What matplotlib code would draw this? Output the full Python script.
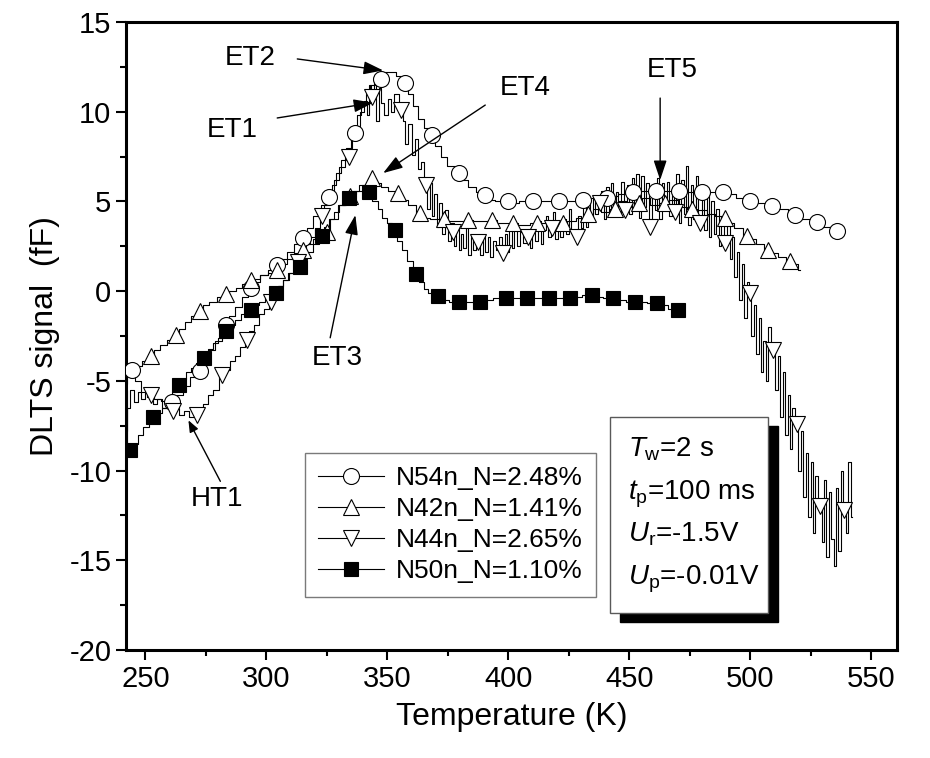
import matplotlib
matplotlib.use("Agg")
import matplotlib.pyplot as plt
from matplotlib.lines import Line2D
from matplotlib.patches import Rectangle
from matplotlib.ticker import MultipleLocator

plt.rcParams["font.family"] = "Liberation Sans"
plt.rcParams["axes.unicode_minus"] = False
plt.rcParams["mathtext.fontset"] = "custom"
plt.rcParams["mathtext.rm"] = "Liberation Sans"
plt.rcParams["mathtext.it"] = "Liberation Sans:italic"

# ---- DLTS spectra: temperature (K) vs signal (fF) ----
n54_T = [242, 244.6, 247, 249, 252, 255, 258, 261, 264, 267,
         270, 272.7, 275, 277.5, 280, 283.5, 286, 288.5, 291, 293.8,
         296, 299, 302, 304.5, 307, 310, 313, 315.3, 318, 321,
         324, 326, 328, 330, 332, 334, 336.8, 338.5, 340, 342,
         344, 345.5, 347.5, 350, 352.5, 355, 357.4, 359.5, 361.5, 364,
         366, 368.6, 371, 373.5, 376, 379.8, 382, 385, 388, 390.5,
         393, 396, 400, 403, 406, 410.3, 413, 416, 421, 424,
         427, 431, 434, 437, 441, 444, 447, 451.6, 455, 458,
         461, 464, 467, 470.5, 474, 477, 480, 484, 488.8, 492,
         496, 500, 504, 509, 513, 518.6, 523, 527.7, 531, 536]
n54_S = [-4.7, -4.4, -5.0, -5.6, -5.9, -6.0, -6.1, -6.2, -5.8, -5.3,
         -4.8, -4.45, -3.9, -3.3, -2.8, -1.9, -1.4, -0.9, -0.3, 0.17,
         0.5, 0.9, 1.2, 1.45, 1.8, 2.2, 2.6, 2.96, 3.5, 4.2,
         4.8, 5.25, 5.9, 6.6, 7.3, 8.0, 8.8, 9.8, 10.5, 11.0,
         11.5, 11.8, 12.0, 12.2, 12.2, 12.0, 11.6, 11.0, 10.3, 9.6,
         9.1, 8.7, 8.1, 7.5, 7.0, 6.6, 6.2, 5.8, 5.5, 5.35,
         5.1, 5.0, 5.0, 4.9, 5.0, 5.0, 5.0, 5.0, 5.0, 5.0,
         5.0, 5.1, 5.2, 5.2, 5.2, 5.3, 5.4, 5.5, 5.6, 5.6,
         5.6, 5.6, 5.6, 5.6, 5.5, 5.5, 5.5, 5.5, 5.5, 5.4,
         5.2, 5.0, 4.9, 4.75, 4.6, 4.25, 4.0, 3.85, 3.6, 3.35]
n54_mT = [244.6, 261, 272.7, 283.5, 293.8, 304.5, 315.3, 326, 336.8, 347.5,
          357.4, 368.6, 379.8, 390.5, 400, 410.3, 421, 431, 441, 451.6,
          461, 470.5, 480, 488.8, 500, 509, 518.6, 527.7, 536]
n54_mS = [-4.4, -6.2, -4.45, -1.9, 0.17, 1.45, 2.96, 5.25, 8.8, 11.8,
          11.6, 8.7, 6.6, 5.35, 5.0, 5.0, 5.0, 5.1, 5.2, 5.5,
          5.6, 5.6, 5.5, 5.5, 5.0, 4.75, 4.25, 3.85, 3.35]

n42_T = [242, 243, 245, 247.5, 250, 252.5, 255, 257.5, 260, 262.8,
         265, 268, 270, 272.7, 275, 278, 281, 283.5, 286, 289,
         291, 293.8, 296, 299, 302, 304.5, 307, 310, 313, 315,
         318, 321, 325, 328, 331, 334.5, 337, 340, 343.8, 346,
         349, 351.5, 354.5, 357, 360, 363.6, 366, 369, 373.5, 377,
         380, 383.5, 387, 390, 393.4, 397, 402, 406, 412, 417,
         422.7, 426, 430, 433, 437, 440, 444, 447, 450, 454,
         457, 460, 465, 468, 472, 476, 480, 484, 487, 489.7,
         492, 495, 498.8, 501, 504, 507.4, 510, 513, 516.5, 519,
         520.5]
n42_S = [-5.2, -4.6, -4.5, -4.2, -3.9, -3.6, -3.3, -3.0, -2.7, -2.45,
         -2.1, -1.7, -1.4, -1.1, -0.8, -0.6, -0.3, -0.15, 0.0, 0.2,
         0.4, 0.6, 0.7, 0.9, 1.0, 1.2, 1.5, 1.8, 2.1, 2.3,
         2.6, 2.9, 3.3, 4.0, 4.8, 5.3, 5.6, 5.9, 6.3, 6.0,
         5.8, 5.6, 5.45, 5.1, 4.8, 4.35, 4.1, 4.0, 4.0, 3.9,
         3.9, 3.95, 3.9, 3.9, 3.95, 3.8, 3.8, 3.7, 3.8, 3.8,
         3.8, 3.9, 4.1, 4.3, 4.6, 4.4, 4.6, 5.0, 4.7, 4.9,
         5.2, 4.8, 4.9, 5.1, 4.7, 4.6, 4.5, 4.3, 4.2, 4.1,
         3.8, 3.5, 3.1, 2.9, 2.6, 2.3, 2.1, 1.9, 1.7, 1.5,
         1.2]
n42_mT = [252.5, 262.8, 272.7, 283.5, 293.8, 304.5, 315, 325, 334.5, 343.8,
          354.5, 363.6, 373.5, 383.5, 393.4, 402, 412, 422.7, 433, 444,
          454, 465, 476, 489.7, 498.8, 507.4, 516.5]
n42_mS = [-3.6, -2.45, -1.1, -0.15, 0.6, 1.2, 2.3, 3.3, 5.3, 6.3,
          5.45, 4.35, 4.0, 3.95, 3.95, 3.8, 3.8, 3.8, 4.3, 4.6,
          4.9, 4.9, 4.6, 4.1, 3.1, 2.3, 1.7]

n44_T = [242, 243, 244.5, 246, 247.5, 249, 250.5, 252.5, 254, 256,
         258, 260, 261.5, 263, 265, 267, 269, 271.5, 273, 275,
         277, 279, 281.8, 284, 286, 288, 290, 292, 294, 296,
         298, 300, 302, 304, 306, 308, 310, 313, 315, 317,
         319, 321, 323, 325, 327, 329, 331, 334, 336, 338,
         339.5, 341, 342, 343, 343.8, 345, 346, 347, 348, 349.5,
         351, 352, 353.5, 355.8, 357, 358, 359.5, 361, 362, 363.5,
         364.5, 366, 367, 368, 369, 370, 371, 372, 373, 374.5,
         375.5, 377, 378, 379, 380, 381, 382, 383, 384, 385,
         386, 387.6, 389, 390, 391, 392, 393, 394, 395.5, 397,
         398, 399, 400, 401, 402, 403, 404, 405.5, 407, 408.3,
         409.5, 410.5, 411.5, 413, 414, 415, 416, 417, 418, 419,
         420, 421, 422, 423.5, 424.5, 425.5, 426.5, 428.5, 429.5, 430.5,
         431.5, 432.5, 433.5, 434.5, 435.5, 436.5, 438, 439, 440, 441,
         442, 443, 444, 445, 446, 447, 448.3, 449.5, 450.5, 451.5,
         452.5, 453.5, 454.5, 455.5, 456.5, 457.5, 458.7, 460, 461, 462,
         463, 464, 465, 466, 467, 468, 469, 470, 471, 472,
         473, 474, 475, 476, 477, 478, 479.3, 480.5, 481.5, 482.5,
         483.5, 484.5, 485.5, 486.5, 487.5, 488.5, 489.7, 491, 492, 493,
         494, 495, 496, 497, 498, 499, 500, 501, 502, 503,
         504, 505, 506, 507, 508, 509.5, 511, 512, 513, 514,
         515, 516, 517, 518, 519.4, 520.5, 521.5, 522.5, 523.5, 524.5,
         525.5, 526.5, 527.5, 529, 530, 531, 532, 533, 534, 535,
         536, 537, 538, 539, 540, 541, 542]
n44_S = [-7.8, -6.5, -5.5, -6.2, -5.6, -6.0, -5.7, -5.8, -6.3, -6.0,
         -6.5, -6.4, -6.7, -6.5, -6.9, -6.7, -7.0, -6.9, -6.6, -6.3,
         -5.8, -5.5, -4.7, -4.4, -3.9, -3.6, -3.1, -2.7, -2.2, -1.9,
         -1.3, -1.0, -0.6, -0.2, 0.3, 0.6, 1.0, 1.6, 2.2, 2.6,
         3.0, 3.5, 4.2, 4.8, 5.5, 6.2, 6.9, 7.5, 8.4, 9.2,
         10.0, 10.6, 9.8, 11.5, 10.8, 12.0, 9.5, 11.3, 10.5, 9.8,
         10.7, 10.0, 11.0, 10.1, 9.5, 8.2, 9.3, 7.6, 8.5, 6.8,
         7.2, 5.9, 4.6, 6.0, 4.2, 5.4, 3.6, 4.9, 3.2, 4.5,
         2.8, 3.8, 2.5, 3.6, 2.3, 3.2, 2.4, 3.5, 2.0, 3.0,
         2.3, 2.75, 2.0, 3.1, 2.2, 3.0, 1.9, 2.8, 2.3, 3.0,
         2.1, 3.2, 2.2, 3.4, 2.4, 3.6, 2.5, 3.3, 2.7, 3.0,
         2.4, 3.7, 2.8, 3.9, 2.6, 3.4, 4.2, 3.0, 3.5, 4.4,
         2.9, 3.8, 3.0, 4.0, 3.2, 4.6, 3.4, 3.0, 4.2, 3.5,
         4.8, 3.6, 5.2, 4.0, 5.3, 4.3, 4.9, 5.6, 4.0, 5.8,
         4.4, 6.0, 4.6, 5.5, 4.2, 6.1, 4.5, 5.9, 4.3, 6.3,
         4.8, 6.5, 4.1, 6.4, 4.7, 6.0, 3.6, 5.5, 4.5, 6.3,
         4.0, 6.0, 4.6, 6.1, 4.2, 5.8, 4.4, 6.5, 3.8, 6.2,
         4.3, 7.0, 3.7, 5.9, 4.0, 6.4, 3.8, 5.5, 3.4, 5.7,
         3.0, 5.0, 3.2, 4.6, 2.5, 4.2, 2.7, 3.8, 1.8, 3.0,
         0.8, 2.2, -0.5, 1.5, -1.5, 0.5, -0.1, -2.5, -0.8, -3.5,
         -1.5, -4.5, -2.8, -5.0, -2.0, -3.3, -5.5, -3.6, -7.0, -4.5,
         -8.0, -5.8, -8.8, -6.5, -7.4, -10.0, -7.8, -11.5, -9.0, -12.6,
         -9.5, -13.5, -10.3, -12.0, -14.0, -10.5, -14.8, -11.2, -13.8, -15.3,
         -11.0, -14.5, -10.0, -12.2, -13.5, -9.5, -12.6]
n44_mT = [252.5, 261.5, 271.5, 281.8, 292, 302, 313, 323, 334, 343.8,
          355.8, 366, 377, 387.6, 398, 408.3, 418, 428.5, 438, 448.3,
          458.7, 469, 479.3, 489.7, 500, 509.5, 519.4, 529, 539]
n44_mS = [-5.8, -6.7, -6.9, -4.7, -2.7, -0.6, 1.6, 4.2, 7.5, 10.8,
          10.1, 5.9, 3.3, 2.75, 2.1, 3.0, 3.5, 3.0, 4.9, 4.5,
          3.6, 4.4, 3.8, 2.7, -0.1, -3.3, -7.4, -12.0, -12.2]

n50_T = [242, 242.8, 243.8, 246, 248, 250, 253.3, 256, 258, 260,
         262, 264, 266, 268, 270, 272, 274.4, 277, 279, 281,
         283.5, 286, 288, 291, 293.8, 296, 298, 301, 304, 306,
         308, 311, 314, 316, 318, 320.5, 323, 325, 327, 329,
         331, 334, 336, 338, 340, 342.6, 345, 347, 349, 351,
         353, 355, 357, 359, 362, 364, 366, 368, 371, 374,
         377, 379.8, 383, 386, 388.4, 392, 395, 399, 403, 407.9,
         411, 414, 417, 421, 425.6, 429, 432, 434.7, 438, 440,
         443.4, 447, 450, 452.5, 456, 459, 461.6, 465, 467, 470]
n50_S = [-5.5, -9.2, -8.86, -8.5, -8.0, -7.6, -7.0, -6.8, -6.5, -6.1,
         -5.6, -5.25, -4.9, -4.5, -4.3, -4.0, -3.7, -3.2, -2.9, -2.6,
         -2.2, -1.9, -1.6, -1.3, -1.05, -0.8, -0.6, -0.3, -0.1, 0.3,
         0.6, 1.0, 1.35, 1.8, 2.2, 2.6, 3.1, 3.6, 4.0, 4.4,
         4.8, 5.2, 5.4, 5.6, 5.6, 5.5, 5.0, 4.6, 4.1, 3.8,
         3.4, 2.8, 2.3, 1.7, 0.95, 0.5, 0.1, -0.1, -0.27, -0.5,
         -0.6, -0.6, -0.6, -0.6, -0.6, -0.5, -0.4, -0.4, -0.4, -0.4,
         -0.4, -0.4, -0.4, -0.4, -0.4, -0.3, -0.2, -0.2, -0.3, -0.4,
         -0.4, -0.5, -0.6, -0.6, -0.6, -0.65, -0.65, -0.8, -1.0, -1.05]
n50_mT = [243.8, 253.3, 264, 274.4, 283.5, 293.8, 304, 314, 323, 334,
          342.6, 353, 362, 371, 379.8, 388.4, 399, 407.9, 417, 425.6,
          434.7, 443.4, 452.5, 461.6, 470]
n50_mS = [-8.86, -7.0, -5.25, -3.7, -2.2, -1.05, -0.1, 1.35, 3.1, 5.2,
          5.5, 3.4, 0.95, -0.27, -0.6, -0.6, -0.4, -0.4, -0.4, -0.4,
          -0.2, -0.4, -0.6, -0.65, -1.05]

labels = ["N54n_N=2.48%", "N42n_N=1.41%", "N44n_N=2.65%", "N50n_N=1.10%"]
box_lines = [r"$T_\mathrm{w}$=2 s", r"$t_\mathrm{p}$=100 ms",
             r"$U_\mathrm{r}$=-1.5V", r"$U_\mathrm{p}$=-0.01V"]

series = [
    (n54_T, n54_S, n54_mT, n54_mS, "o", "white", 11.5),
    (n42_T, n42_S, n42_mT, n42_mS, "^", "white", 11),
    (n44_T, n44_S, n44_mT, n44_mS, "v", "white", 11),
    (n50_T, n50_S, n50_mT, n50_mS, "s", "black", 10),
]

fig = plt.figure(figsize=(9.3, 7.58), dpi=100)
ax = fig.add_axes([0.1355, 0.1425, 0.829, 0.8285])

handles = []
for (T, S, mT, mS, mk, fc, ms), lab in zip(series, labels):
    ax.plot(T, S, color="black", lw=0.8, drawstyle="steps-mid", zorder=2)
    ax.plot(mT, mS, ls="none", marker=mk, ms=ms, mfc=fc, mec="black",
            mew=0.8, zorder=3)
    handles.append(Line2D([], [], color="black", lw=0.8, marker=mk, ms=ms,
                          mfc=fc, mec="black", mew=0.8, label=lab))

# peak labels with arrows
arrow = dict(arrowstyle="-|>,head_length=0.6,head_width=0.2", color="black",
             lw=1.0, mutation_scale=20, shrinkA=0, shrinkB=0)
fs_ann = 20
ax.annotate("", xy=(348.3, 12.3), xytext=(312.8, 12.94), arrowprops=arrow)
ax.text(293.4, 13.0, "ET2", fontsize=fs_ann, ha="center", va="center")
ax.annotate("", xy=(344.2, 10.5), xytext=(304.5, 9.65), arrowprops=arrow)
ax.text(286, 9.0, "ET1", fontsize=fs_ann, ha="center", va="center")
ax.annotate("", xy=(348.3, 6.58), xytext=(390.5, 10.37), arrowprops=arrow)
ax.text(407, 11.3, "ET4", fontsize=fs_ann, ha="center", va="center")
ax.annotate("", xy=(336.8, 4.24), xytext=(326.4, -2.6), arrowprops=arrow)
ax.text(329.3, -3.73, "ET3", fontsize=fs_ann, ha="center", va="center")
ax.annotate("", xy=(462.8, 6.19), xytext=(462.8, 10.76), arrowprops=arrow)
ax.text(468, 12.3, "ET5", fontsize=fs_ann, ha="center", va="center")
ax.annotate("", xy=(267.8, -7.2), xytext=(281, -10.6),
            arrowprops=dict(arrowstyle="-|>,head_length=0.5,head_width=0.2",
                            color="black", lw=1.0, mutation_scale=14,
                            shrinkA=0, shrinkB=0))
ax.text(279.8, -11.6, "HT1", fontsize=fs_ann, ha="center", va="center")

# measurement conditions box with drop shadow
bx0, by0, bw, bh = 0.628, 0.059, 0.205, 0.312
ax.add_patch(Rectangle((bx0 + 0.013, by0 - 0.0143), bw, bh, transform=ax.transAxes,
                       facecolor="black", edgecolor="black", zorder=5))
ax.add_patch(Rectangle((bx0, by0), bw, bh, transform=ax.transAxes,
                       facecolor="white", edgecolor="0.35", lw=1.0, zorder=6))
for i, s in enumerate(box_lines):
    ax.text(bx0 + 0.023, 0.308 - i * 0.068, s, transform=ax.transAxes,
            fontsize=20, ha="left", va="baseline", zorder=7)

leg = ax.legend(handles=handles, loc="upper left",
                bbox_to_anchor=(0.232, 0.314), borderaxespad=0,
                fontsize=19, handlelength=2.5, handletextpad=0.45,
                labelspacing=0.27, borderpad=0.5, frameon=True,
                fancybox=False)
leg.get_frame().set_edgecolor("0.35")
leg.get_frame().set_linewidth(1.0)
leg.set_zorder(6)

ax.set_xlim(242, 560.7)
ax.set_ylim(-20, 15)
ax.xaxis.set_major_locator(MultipleLocator(50))
ax.xaxis.set_minor_locator(MultipleLocator(25))
ax.yaxis.set_major_locator(MultipleLocator(5))
ax.yaxis.set_minor_locator(MultipleLocator(2.5))
ax.tick_params(which="both", direction="out", top=False, right=False,
               labelsize=21, width=1.5)
ax.tick_params(which="major", length=7)
ax.tick_params(which="minor", length=4)
for sp in ax.spines.values():
    sp.set_linewidth(2.2)

ax.set_xlabel("Temperature (K)", fontsize=23, labelpad=7)
ax.set_ylabel("DLTS signal  (fF)", fontsize=23, labelpad=7)

fig.savefig("out.png", dpi=100)
